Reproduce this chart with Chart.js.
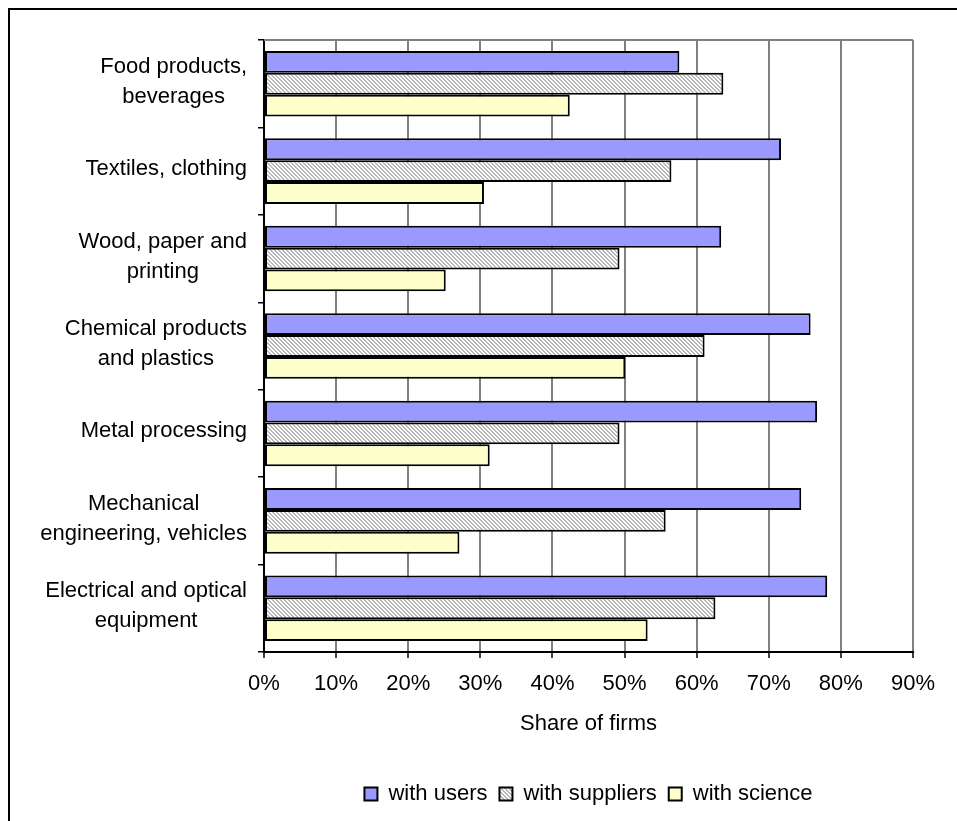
<!DOCTYPE html>
<html>
<head>
<meta charset="utf-8">
<script src="https://cdn.jsdelivr.net/npm/chart.js@4.4.1/dist/chart.umd.min.js"></script>
<style>
  html, body { margin: 0; padding: 0; background: #fff; overflow: hidden; }
  #frame { position: absolute; left: 8px; top: 8px; width: 1000px; height: 900px; border: 2px solid #000; }
  #chart { position: absolute; left: 0; top: 0; }
</style>
</head>
<body>
<div id="frame"></div>
<canvas id="chart" width="957" height="821"></canvas>
<script>
// categories, one array of lines per label
const categories = [
  ['Food products,', 'beverages'],
  ['Textiles, clothing'],
  ['Wood, paper and', 'printing'],
  ['Chemical products', 'and plastics'],
  ['Metal processing'],
  ['Mechanical', 'engineering, vehicles'],
  ['Electrical and optical', 'equipment']
];

// share of firms (%)
const withUsers = [57.6, 71.7, 63.4, 75.8, 76.7, 74.5, 78.1];
const withSuppliers = [63.7, 56.5, 49.3, 61.1, 49.3, 55.7, 62.6];
const withScience = [42.4, 30.5, 25.2, 50.1, 31.3, 27.1, 53.2];

const xTickLabels = ['0%', '10%', '20%', '30%', '40%', '50%', '60%', '70%', '80%', '90%'];

const FONT = "'Liberation Sans', Arial, sans-serif";
const FONT_SIZE = 22;

// diagonal hatch (top-left to bottom-right) for the suppliers series
function makeHatch() {
  const c = document.createElement('canvas');
  c.width = 4; c.height = 4;
  const g = c.getContext('2d');
  g.fillStyle = '#fff';
  g.fillRect(0, 0, 4, 4);
  g.fillStyle = '#b8b8b8';
  for (let y = 0; y < 4; y++) {
    for (let x = 0; x < 4; x++) {
      const d = ((x - y) % 4 + 4) % 4;
      if (d === 0 || d === 1) g.fillRect(x, y, 1, 1);
    }
  }
  return g.createPattern(c, 'repeat');
}

// multi-line category labels: block right-aligned, lines centred in block
const categoryLabels = {
  id: 'categoryLabels',
  afterDraw(chart) {
    const { ctx } = chart;
    const y = chart.scales.y;
    const rightEdge = y.right - 17;
    const lineGap = 30;
    ctx.save();
    ctx.font = FONT_SIZE + 'px ' + FONT;
    ctx.fillStyle = '#000';
    ctx.textAlign = 'center';
    ctx.textBaseline = 'middle';
    categories.forEach((lines, i) => {
      const cy = y.getPixelForValue(i) - 2;
      const blockW = Math.max(...lines.map(l => ctx.measureText(l).width));
      const cx = rightEdge - blockW / 2;
      const top = cy - (lines.length - 1) * lineGap / 2;
      lines.forEach((l, k) => ctx.fillText(l, cx, top + k * lineGap));
    });
    ctx.restore();
  }
};

// grey frame line along the top of the plot area
const plotTop = {
  id: 'plotTop',
  beforeDatasetsDraw(chart) {
    const { ctx, chartArea: a } = chart;
    ctx.save();
    ctx.strokeStyle = '#808080';
    ctx.lineWidth = 2;
    ctx.beginPath();
    ctx.moveTo(a.left, a.top);
    ctx.lineTo(a.right, a.top);
    ctx.stroke();
    ctx.restore();
  }
};

const hatch = makeHatch();

new Chart(document.getElementById('chart'), {
  type: 'bar',
  data: {
    labels: categories,
    datasets: [
      { label: 'with users', data: withUsers, backgroundColor: '#9999ff', borderColor: '#000', borderWidth: 2, borderSkipped: false },
      { label: 'with suppliers', data: withSuppliers, backgroundColor: hatch, borderColor: '#000', borderWidth: 2, borderSkipped: false },
      { label: 'with science', data: withScience, backgroundColor: '#ffffcc', borderColor: '#000', borderWidth: 2, borderSkipped: false }
    ]
  },
  options: {
    indexAxis: 'y',
    responsive: false,
    animation: false,
    layout: { padding: { left: 0, top: 40, right: 44, bottom: 6 } },
    datasets: { bar: { categoryPercentage: 0.75, barPercentage: 1 } },
    scales: {
      x: {
        min: 0,
        max: 90,
        ticks: {
          stepSize: 10,
          padding: 13,
          color: '#000',
          font: { family: FONT, size: FONT_SIZE },
          callback: (v, i) => xTickLabels[i]
        },
        grid: { color: '#808080', lineWidth: 2, tickColor: '#000', tickLength: 6, tickWidth: 1.5 },
        border: { color: '#000', width: 2 },
        title: { display: true, text: 'Share of firms', color: '#000', font: { family: FONT, size: FONT_SIZE }, padding: { top: 0, bottom: 34 } },
        afterFit: s => { s.height = 119; }
      },
      y: {
        ticks: { display: false },
        grid: { drawOnChartArea: false, color: '#000', tickLength: 6, lineWidth: 1.5 },
        border: { color: '#000', width: 2 },
        afterFit: s => { s.width = 264; }
      }
    },
    plugins: {
      legend: {
        position: 'bottom',
        fullSize: false,
        labels: { boxWidth: 13, boxHeight: 13, padding: 12, color: '#000', font: { family: FONT, size: FONT_SIZE } }
      },
      tooltip: { enabled: false }
    }
  },
  plugins: [categoryLabels, plotTop]
});
</script>
</body>
</html>
